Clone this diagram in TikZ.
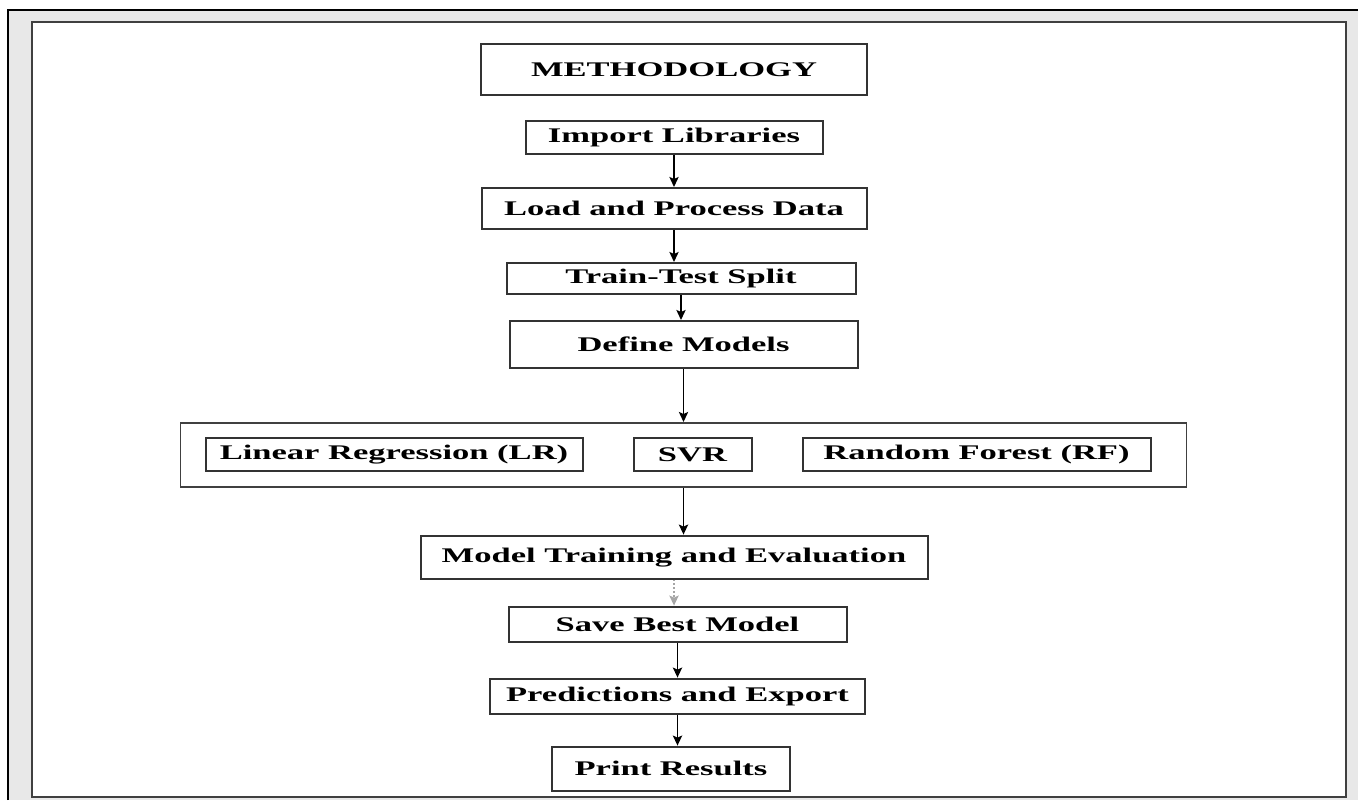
\documentclass[tikz,border=0pt]{standalone}
\usepackage{fontspec}
\newfontfamily\kastenfont{Liberation Serif}[FakeStretch=1.66]
\usepackage{tikz}
\usetikzlibrary{arrows.meta,positioning}
\tikzset{
    %Define standard arrow tip
    >={Stealth[length=5pt,width=4.6pt,inset=1pt]},
    font=\kastenfont\bfseries\fontsize{10.4}{12}\selectfont,
    %Define style for boxes
    kasten/.style={
           rectangle,
           draw=black!80, line width=1pt,
           fill=white,
           inner sep=2pt,
           minimum height=16.5pt,
           text centered},
    % Define style for the model panel
    rahmen/.style={
           rectangle,
           draw=black!75, line width=0.8pt,
           fill=white,
           minimum width=503pt,
           minimum height=32pt},
    % Define arrow style
    pil/.style={
	   ->,
	   line width=0.9pt}
}

\begin{document}
\begin{tikzpicture}[node distance=16pt]
  % page frame
  \useasboundingbox (0,0) rectangle (679pt,-400pt);
  \fill[white] (0,0) rectangle (679pt,-400pt);
  \fill[black!9] (4pt,-5pt) rectangle (679pt,-400pt);
  \draw[line width=1.1pt] (4pt,-400pt) |- (679pt,-5pt);
  \draw[draw=black!75, line width=1.1pt, fill=white] (16pt,-11pt) rectangle (673pt,-398.6pt);

  \node[kasten, minimum width=193pt, minimum height=25.5pt] (meth) at (337pt,-34.75pt) {METHODOLOGY};
  \node[kasten, minimum width=148.5pt] (imp) [below=12pt of meth] {Import Libraries};
  \node[kasten, minimum width=192.5pt, minimum height=20.5pt] (load) [below=of imp] {Load and Process Data};
  \node[kasten, minimum width=174.5pt, minimum height=15.5pt] (split) [below=of load, xshift=3.5pt] {Train-Test Split};
  \node[kasten, minimum width=174pt, minimum height=23.5pt] (define) [below=12.5pt of split, xshift=1.25pt] {Define Models};
  \node[rahmen] (panel) [below=26.5pt of define] {};
  \node[kasten, minimum width=59pt] (svr) at ([xshift=4.5pt]panel.center) {SVR};
  \node[kasten, minimum width=188.5pt] (lr) [left=24.5pt of svr] {Linear Regression (LR)};
  \node[kasten, minimum width=174pt] (rf) [right=24.5pt of svr] {Random Forest (RF)};
  \node[kasten, minimum width=253.5pt, minimum height=21.5pt] (train) [below=23.5pt of panel, xshift=-4.75pt] {Model Training and Evaluation};
  \node[kasten, minimum width=169pt, minimum height=17.5pt] (save) [below=13pt of train, xshift=1.75pt] {Save Best Model};
  \node[kasten, minimum width=187.5pt, minimum height=17.5pt] (pred) [below=17.5pt of save] {Predictions and Export};
  \node[kasten, minimum width=119pt, minimum height=22pt] (print) [below=15.5pt of pred, xshift=-3.25pt] {Print Results};

  \draw[pil]
      (imp) edge (imp |- load.north)
      (load) edge (load |- split.north)
      (split) edge (split |- define.north)
      (define) edge (define |- panel.north)
      (panel) edge (panel |- train.north)
      (train) edge[densely dotted, draw=black!35] (train |- save.north)
      (save) edge (save |- pred.north)
      (pred) edge (pred |- print.north);
\end{tikzpicture}
\end{document}
